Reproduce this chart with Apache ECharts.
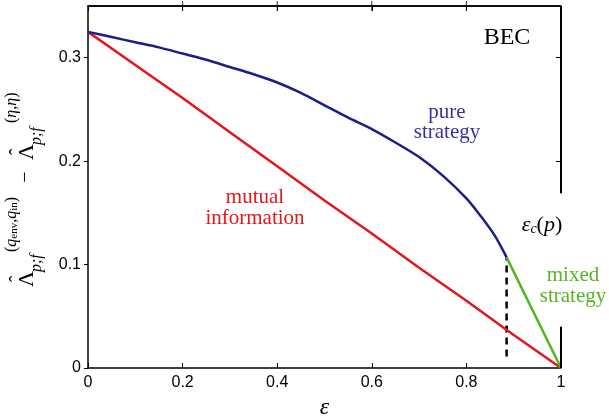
<!DOCTYPE html>
<html><head><meta charset="utf-8">
<script src="https://cdn.jsdelivr.net/npm/echarts@6/dist/echarts.min.js"></script>
<style>html,body{margin:0;padding:0;background:#fff}#c{width:609px;height:418px}</style>
</head><body><div id="c"></div>
<script>
// ---- data ----
const xRange = [0, 1];
const yRange = [0, 0.35];
const epsPure  = [0, 0.05, 0.1, 0.15, 0.2, 0.25, 0.3, 0.35, 0.4, 0.45, 0.5, 0.55, 0.6, 0.65, 0.7, 0.75, 0.8, 0.83, 0.86, 0.885];
const pureVals = [0.325, 0.320, 0.315, 0.310, 0.304, 0.298, 0.291, 0.284, 0.276, 0.266, 0.254, 0.242, 0.231, 0.218, 0.204, 0.186, 0.164, 0.147, 0.128, 0.107];
const epsMI  = [0, 0.1, 0.2, 0.3, 0.4, 0.5, 0.6, 0.7, 0.8, 0.9, 1];
const miVals = [0.325, 0.293, 0.261, 0.228, 0.195, 0.162, 0.130, 0.097, 0.065, 0.032, 0];
const epsMixed  = [0.885, 1];
const mixedVals = [0.107, 0];
const epsCrit  = [0.885, 0.885];
const critVals = [0.011, 0.107];
const topEdgeX = [0, 1];
const topEdgeY = [0.35, 0.35];
const topTickX = [0.2, 0.4, 0.6, 0.8];
const rightEdgeX = [1, 1];
const rightEdgeUpper = [0.35, 0.169];
const rightEdgeLower = [0.04, 0];
const rightTickValues = [0.2, 0.3];

const zip = (xs, ys) => xs.map((x, i) => [x, ys[i]]);

const SERIF = '"Liberation Serif", "DejaVu Serif", serif';
const SERIF_FAM = 'Liberation Serif';
const SANS = '"Liberation Sans", Arial, sans-serif';
const BLUE = '#1c1c8c', RED = '#e4161c', GREEN = '#55b520';

const chart = echarts.init(document.getElementById('c'));

const supRich = {
  i: { fontFamily: SERIF_FAM, fontStyle: 'italic', fontSize: 16, fill: '#000', color: '#000' },
  s: { fontFamily: SERIF_FAM, fontSize: 11, fill: '#000', color: '#000', verticalAlign: 'bottom' },
  n: { fontFamily: SERIF_FAM, fontSize: 16, fill: '#000', color: '#000' }
};
function lambdaHat(x0, supText, supX) {
  return [
    { type: 'text', style: { text: 'Λ', x: x0, y: -7.5, font: '22px ' + SERIF, fill: '#000', align: 'left', verticalAlign: 'middle' } },
    { type: 'text', style: { text: 'ˆ', x: x0 + 8, y: -16, font: '20px ' + SERIF, fill: '#000', align: 'center', verticalAlign: 'middle' } },
    { type: 'text', style: { text: 'p;f', x: x0 + 15, y: 2, font: 'italic 16px ' + SERIF, fill: '#000', align: 'left', verticalAlign: 'middle' } },
    { type: 'text', style: { text: supText, rich: supRich, x: supX, y: -23, fontSize: 16, fontFamily: SERIF_FAM, fill: '#000', align: 'left', verticalAlign: 'middle' } }
  ];
}
const yLabelChildren = []
  .concat(lambdaHat(0, '{n|(}{i|q}{s|env}{n|,}{i|q}{s|in}{n|)}', 35))
  .concat([{ type: 'text', style: { text: '−', x: 110, y: -9, font: '20px ' + SERIF, fill: '#000', align: 'center', verticalAlign: 'middle' } }])
  .concat(lambdaHat(127, '{n|(}{i|η}{n|,}{i|η}{n|)}', 164));

chart.setOption({
  animation: false,
  backgroundColor: '#fff',
  grid: { left: 88, right: 48, top: 6, bottom: 50, outerBoundsMode: 'none', containLabel: false },
  xAxis: [{
    type: 'value', min: xRange[0], max: xRange[1], interval: 0.2,
    name: 'ε', nameLocation: 'middle', nameGap: 26,
    nameTextStyle: { fontFamily: SERIF_FAM, fontStyle: 'italic', fontSize: 24, color: '#000' },
    axisLine: { onZero: false, lineStyle: { color: '#000', width: 1.5 } },
    axisTick: { inside: true, length: 5, lineStyle: { color: '#000' } },
    axisLabel: { fontFamily: SANS, fontSize: 16, color: '#000', margin: 7 },
    splitLine: { show: false }
  }, {
    type: 'value', position: 'top', min: xRange[0], max: xRange[1],
    axisLine: { show: true, onZero: false, lineStyle: { color: '#000', width: 1.5 } },
    axisTick: { show: true, inside: true, length: 5, lineStyle: { color: '#000' } },
    axisLabel: { show: false }, splitLine: { show: false }
  }],
  yAxis: [{
    type: 'value', min: yRange[0], max: yRange[1], interval: 0.1,
    axisLine: { show: true, onZero: false, lineStyle: { color: '#000', width: 1.5 } },
    axisTick: { show: true, length: 4, lineStyle: { color: '#000' } },
    axisLabel: { fontFamily: SANS, fontSize: 16, color: '#000', margin: 7, showMaxLabel: false },
    splitLine: { show: false }
  }, {
    type: 'value', position: 'right', min: yRange[0], max: yRange[1], interval: 0.1,
    axisLine: { show: false, onZero: false },
    axisTick: { show: true, inside: true, length: 5, lineStyle: { color: '#000' }, customValues: rightTickValues },
    axisLabel: { show: false }, splitLine: { show: false }
  }],
  series: [
    { type: 'line', name: 'mutual information', data: zip(epsMI, miVals), showSymbol: false, lineStyle: { color: RED, width: 2.5 }, z: 3 },
    { type: 'line', name: 'pure strategy', data: zip(epsPure, pureVals), smooth: 0.3, showSymbol: false, lineStyle: { color: BLUE, width: 2.5 }, z: 4 },
    { type: 'line', name: 'mixed strategy', data: zip(epsMixed, mixedVals), showSymbol: false, lineStyle: { color: GREEN, width: 2.5 }, z: 4 },
    { type: 'line', name: 'eps_c', data: zip(epsCrit, critVals), showSymbol: false, lineStyle: { color: '#000', width: 2.5, type: [7, 5] }, z: 2 },
    { type: 'line', name: 'edgeTop', data: zip(topEdgeX, topEdgeY), clip: false, showSymbol: false, lineStyle: { color: '#000', width: 1.5 }, z: 5 },
    { type: 'scatter', name: 'topTicks', data: topTickX.map(x => [x, yRange[1]]), clip: false, symbol: 'rect', symbolSize: [1, 10], itemStyle: { color: '#000' }, z: 5 },
    { type: 'line', name: 'edgeUpper', xAxisIndex: 1, yAxisIndex: 1, data: zip(rightEdgeX, rightEdgeUpper), clip: false, showSymbol: false, lineStyle: { color: '#000', width: 2 }, z: 5 },
    { type: 'line', name: 'edgeLower', xAxisIndex: 1, yAxisIndex: 1, data: zip(rightEdgeX, rightEdgeLower), clip: false, showSymbol: false, lineStyle: { color: '#000', width: 2 }, z: 5 }
  ],
  graphic: [
    { type: 'text', x: 507, y: 38, style: { text: 'BEC', font: '24px ' + SERIF, fill: '#000', align: 'center', verticalAlign: 'middle' } },
    { type: 'text', x: 447, y: 122, style: { text: 'pure\nstrategy', font: '21px ' + SERIF, lineHeight: 20, fill: '#3a30a0', align: 'center', verticalAlign: 'middle' } },
    { type: 'text', x: 255, y: 208, style: { text: 'mutual\ninformation', font: '21px ' + SERIF, lineHeight: 21, fill: RED, align: 'center', verticalAlign: 'middle' } },
    { type: 'text', x: 573, y: 286, style: { text: 'mixed\nstrategy', font: '21px ' + SERIF, lineHeight: 21, fill: GREEN, align: 'center', verticalAlign: 'middle' } },
    { type: 'text', x: 542, y: 225, style: {
        text: '{e|ε}{c|c}{n|(}{e|p}{n|)}', fontSize: 22, fontFamily: SERIF_FAM, fill: '#000', align: 'center', verticalAlign: 'middle',
        rich: {
          e: { fontFamily: SERIF_FAM, fontStyle: 'italic', fontSize: 22, fill: '#000', color: '#000' },
          c: { fontFamily: SERIF_FAM, fontStyle: 'italic', fontSize: 14, fill: '#000', color: '#000', verticalAlign: 'bottom' },
          n: { fontFamily: SERIF_FAM, fontSize: 22, fill: '#000', color: '#000' }
        } } },
    { type: 'group', x: 35, y: 287, rotation: Math.PI / 2, children: yLabelChildren }
  ]
});
</script>
</body></html>
